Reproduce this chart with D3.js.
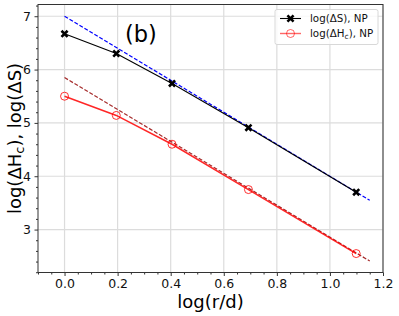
<!DOCTYPE html>
<html>
<head>
<meta charset="utf-8">
<script src="https://cdn.jsdelivr.net/npm/d3@7"></script>
<style>
  body { margin: 0; background: #fff; }
  svg { font-family: "DejaVu Sans", sans-serif; }
</style>
</head>
<body>
<svg width="399" height="316"></svg>
<script>
// data
var logRd = [0, 0.195, 0.405, 0.693, 1.099]
var logDS = [6.67, 6.30, 5.74, 4.91, 3.70]
var logDHc = [5.50, 5.14, 4.60, 3.75, 2.55]
var fitX = [0, 1.15]
var fitDS = [7.0, 3.55]
var fitDHc = [5.85, 2.41]
var xTicks = [0.0, 0.2, 0.4, 0.6, 0.8, 1.0, 1.2]
var yTicks = [3, 4, 5, 6, 7]

var svg = d3.select('svg'),
  margin = {top: 4.5, right: 16, bottom: 43.5, left: 38},
  width = +svg.attr('width') - margin.left - margin.right,
  height = +svg.attr('height') - margin.top - margin.bottom,
  g = svg.append('g').attr('transform', 'translate(' + margin.left + ',' + margin.top + ')')

var x = d3.scaleLinear().domain([-0.1, 1.2]).range([0, width])
var y = d3.scaleLinear().domain([2.195, 7.22]).range([height, 0])

// grid
g.append('g').selectAll('line').data(xTicks).enter().append('line')
  .attr('x1', function (d) { return x(d) }).attr('x2', function (d) { return x(d) })
  .attr('y1', 0).attr('y2', height)
  .attr('stroke', '#dcdcdc').attr('stroke-width', 1.2)
g.append('g').selectAll('line').data(yTicks).enter().append('line')
  .attr('y1', function (d) { return y(d) }).attr('y2', function (d) { return y(d) })
  .attr('x1', 0).attr('x2', width)
  .attr('stroke', '#dcdcdc').attr('stroke-width', 1.2)

// minor ticks
var xMinor = d3.range(-0.1, 1.2001, 0.05).filter(function (d) { return Math.abs(d * 5 - Math.round(d * 5)) > 1e-6 })
var yMinor = d3.range(2.2, 7.21, 0.2).filter(function (d) { return Math.abs(d - Math.round(d)) > 1e-6 })

var xAxis = g.append('g').attr('transform', 'translate(0,' + height + ')')
  .call(d3.axisBottom(x).tickValues(xTicks).tickFormat(d3.format('.1f')).tickSize(3.5).tickPadding(3.5))
xAxis.append('g').call(d3.axisBottom(x).tickValues(xMinor).tickFormat('').tickSize(2))
var yAxis = g.append('g')
  .call(d3.axisLeft(y).tickValues(yTicks).tickFormat(d3.format('d')).tickSize(3.5).tickPadding(3.5))
yAxis.append('g').call(d3.axisLeft(y).tickValues(yMinor).tickFormat('').tickSize(2))

g.selectAll('.domain').remove()
g.selectAll('.tick line').attr('stroke', '#333')
g.selectAll('.tick text').attr('font-size', 12.5).attr('fill', '#111').attr('font-family', 'DejaVu Sans')

var line = d3.line()
  .x(function (d) { return x(d[0]) })
  .y(function (d) { return y(d[1]) })

// fitted dashed lines
g.append('path').datum(d3.zip(fitX, fitDS)).attr('d', line)
  .attr('fill', 'none').attr('stroke', '#0000ff').attr('stroke-width', 1.2).attr('stroke-dasharray', '4,1.8')
g.append('path').datum(d3.zip(fitX, fitDHc)).attr('d', line)
  .attr('fill', 'none').attr('stroke', '#a52a2a').attr('stroke-width', 1.2).attr('stroke-dasharray', '4,1.8')

// data lines
g.append('path').datum(d3.zip(logRd, logDS)).attr('d', line)
  .attr('fill', 'none').attr('stroke', '#000').attr('stroke-width', 1.1)
g.append('path').datum(d3.zip(logRd, logDHc)).attr('d', line)
  .attr('fill', 'none').attr('stroke', 'red').attr('stroke-opacity', 0.85).attr('stroke-width', 1.5)

var xMark = d3.symbol().type(d3.symbolX).size(26)
g.append('g').selectAll('path').data(d3.zip(logRd, logDS)).enter().append('path')
  .attr('d', xMark)
  .attr('transform', function (d) { return 'translate(' + x(d[0]) + ',' + y(d[1]) + ')' })
  .attr('fill', '#000').attr('stroke', '#000').attr('stroke-width', 2.6)

g.append('g').selectAll('circle').data(d3.zip(logRd, logDHc)).enter().append('circle')
  .attr('cx', function (d) { return x(d[0]) }).attr('cy', function (d) { return y(d[1]) })
  .attr('r', 4).attr('fill', 'none').attr('stroke', 'red').attr('stroke-opacity', 0.8).attr('stroke-width', 1)

// frame
g.append('rect').attr('width', width).attr('height', height)
  .attr('fill', 'none').attr('stroke', '#333').attr('stroke-width', 1)

// panel label
g.append('text').attr('x', 87).attr('y', 37.5).attr('font-size', 22.5).text('(b)')

// legend
var legend = g.append('g').attr('transform', 'translate(237,5)')
legend.append('rect').attr('width', 103).attr('height', 35).attr('rx', 2)
  .attr('fill', 'rgba(255,255,255,0.8)').attr('stroke', '#d8d8d8')
var legendItems = [
  {label: 'ΔS', sub: null, color: '#000', marker: 'x'},
  {label: 'ΔH', sub: 'c', color: 'red', marker: 'o'}
]
legendItems.forEach(function (d, i) {
  var row = legend.append('g').attr('transform', 'translate(0,' + (9 + i * 15) + ')')
  row.append('line').attr('x1', 5).attr('x2', 26).attr('stroke', d.color)
    .attr('stroke-width', d.marker === 'x' ? 1.1 : 1.4).attr('stroke-opacity', d.marker === 'x' ? 1 : 0.6)
  if (d.marker === 'x') {
    row.append('path').attr('d', xMark).attr('transform', 'translate(15.5,0)')
      .attr('fill', '#000').attr('stroke', '#000').attr('stroke-width', 2.6)
  } else {
    row.append('circle').attr('cx', 15.5).attr('r', 4).attr('fill', 'none')
      .attr('stroke', 'red').attr('stroke-opacity', 0.6)
  }
  var t = row.append('text').attr('x', 35).attr('y', 3.7).attr('font-size', 10.3).attr('fill', '#111')
  t.append('tspan').text('log(' + d.label)
  if (d.sub) t.append('tspan').attr('font-size', 7.5).attr('dy', 2).text(d.sub)
  t.append('tspan').attr('dy', d.sub ? -2 : 0).text('), NP')
})

// axis labels
svg.append('text').attr('x', margin.left + width / 2).attr('y', 307.5)
  .attr('text-anchor', 'middle').attr('font-size', 18).text('log(r/d)')
var yl = svg.append('text')
  .attr('transform', 'translate(21,' + (margin.top + height / 2) + ') rotate(-90)')
  .attr('text-anchor', 'middle').attr('font-size', 18)
yl.append('tspan').text('log(ΔH')
yl.append('tspan').attr('font-size', 13).attr('dy', 3).text('c')
yl.append('tspan').attr('dy', -3).text('), log(ΔS)')
</script>
</body>
</html>
